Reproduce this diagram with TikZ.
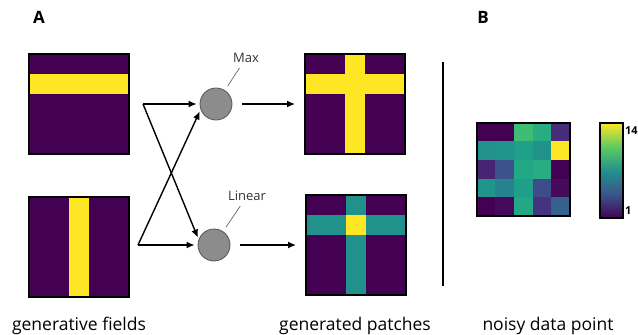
\documentclass[tikz,border=0pt]{standalone}
\usepackage{fontspec}
\setmainfont{Open Sans}
\usetikzlibrary{arrows.meta}

% viridis steps
\definecolor{vA}{HTML}{440154}
\definecolor{vB}{HTML}{450A5C}
\definecolor{vC}{HTML}{482475}
\definecolor{vD}{HTML}{472C7A}
\definecolor{vE}{HTML}{46337F}
\definecolor{vF}{HTML}{404688}
\definecolor{vG}{HTML}{3E4C8A}
\definecolor{vH}{HTML}{33638D}
\definecolor{vI}{HTML}{3B528B}
\definecolor{vJ}{HTML}{26828E}
\definecolor{vK}{HTML}{21918C}
\definecolor{vL}{HTML}{1F958B}
\definecolor{vM}{HTML}{1F9E89}
\definecolor{vN}{HTML}{1FA088}
\definecolor{vO}{HTML}{22A884}
\definecolor{vP}{HTML}{27AD81}
\definecolor{vQ}{HTML}{3DBC74}
\definecolor{vR}{HTML}{5EC962}
\definecolor{vY}{HTML}{FDE725}

% 5x5 cells: top left corner, cell size, colours row by row
\newcommand{\cellgrid}[3]{%
  \begin{scope}[shift={#1}]
    \foreach \cc [count=\i from 0] in {#3} {
      \pgfmathtruncatemacro{\gr}{\i/5}
      \pgfmathtruncatemacro{\gc}{mod(\i,5)}
      \fill[\cc, draw=\cc, line width=0.3pt] (\gc*#2,\gr*#2) rectangle ++(#2,#2);
    }
  \end{scope}}

\tikzset{
  field/.style={draw, line width=2pt, minimum size=100pt, inner sep=0pt},
  unit/.style={circle, draw=black!67, fill=black!45, minimum size=32pt, inner sep=0pt, line width=0.8pt},
  arr/.style={-{Latex[length=8pt,width=7pt]}, line width=1.4pt},
  tag/.style={text=black!80, font=\fontsize{13}{15}\selectfont},
  pinline/.style={draw=black!60, line width=0.7pt},
  caption/.style={font=\fontsize{17.5}{20}\selectfont, anchor=base},
  panel/.style={font=\bfseries\fontsize{17}{20}\selectfont}
}

\begin{document}
\begin{tikzpicture}[x=1pt,y=-1pt]
  \useasboundingbox (0,0) rectangle (638,335);

  \node[panel] (pA) at (39,17) {A};
  \node[panel] (pB) at (483,17) {B};

  % generative fields
  \cellgrid{(29,54)}{20}{vA,vA,vA,vA,vA, vY,vY,vY,vY,vY, vA,vA,vA,vA,vA, vA,vA,vA,vA,vA, vA,vA,vA,vA,vA}
  \node[field] (gen1) at (79,104) {};
  \cellgrid{(29,197)}{20}{vA,vA,vY,vA,vA, vA,vA,vY,vA,vA, vA,vA,vY,vA,vA, vA,vA,vY,vA,vA, vA,vA,vY,vA,vA}
  \node[field] (gen2) at (79,247) {};

  % combination units
  \node[unit] (maxc) at (216,104) {};
  \node[unit] (linc) at (214,245) {};
  \node[tag] (maxl) at (246,58) {Max};
  \node[tag] (linl) at (247,196) {Linear};
  \draw[pinline, shorten <=2pt, shorten >=5pt] (maxl) -- (maxc);
  \draw[pinline, shorten <=2pt, shorten >=5pt] (linl) -- (linc);

  \coordinate (s1) at (143,104);
  \coordinate (s2) at (138,245);
  \draw[arr, shorten >=3pt] (s1) -- (s1 -| maxc.west);
  \draw[arr, shorten >=2pt] (s1) -- (linc.160);
  \draw[arr, shorten >=2pt] (s2) -- (maxc.200);
  \draw[arr, shorten >=3pt] (s2) -- (s2 -| linc.west);

  % generated patches
  \cellgrid{(305,54)}{20}{vA,vA,vY,vA,vA, vY,vY,vY,vY,vY, vA,vA,vY,vA,vA, vA,vA,vY,vA,vA, vA,vA,vY,vA,vA}
  \node[field] (pat1) at (355,104) {};
  \cellgrid{(306,195)}{20}{vA,vA,vK,vA,vA, vK,vK,vY,vK,vK, vA,vA,vK,vA,vA, vA,vA,vK,vA,vA, vA,vA,vK,vA,vA}
  \node[field] (pat2) at (356,245) {};
  \draw[arr, shorten <=10pt, shorten >=9pt] (maxc) -- (pat1);
  \draw[arr, shorten <=10pt, shorten >=9pt] (linc) -- (pat2);

  \draw[line width=1.8pt] (443,62) -- (443,286);

  % noisy data point
  \cellgrid{(477,123)}{18.6}{vA,vA,vQ,vP,vD, vK,vL,vN,vK,vY, vC,vI,vO,vP,vA, vL,vJ,vM,vG,vB, vA,vB,vO,vE,vH}
  \node[field, minimum size=93pt] (noisy) at (523.5,169.5) {};

  % colour bar
  \shade[top color=vY, bottom color=vR] (600,123) rectangle (623,147);
  \shade[top color=vR, bottom color=vK] (600,147) rectangle (623,171);
  \shade[top color=vK, bottom color=vI] (600,171) rectangle (623,195);
  \shade[top color=vI, bottom color=vA] (600,195) rectangle (623,218);
  \node[draw, line width=1.6pt, minimum width=23pt, minimum height=95pt, inner sep=0pt] (cbar) at (611.5,170.5) {};
  \node[anchor=west, inner sep=1pt, font=\bfseries\fontsize{11}{13}\selectfont] (cmax) at (cbar.north east) [yshift=-8pt] {14};
  \node[anchor=west, inner sep=1pt, font=\bfseries\fontsize{11}{13}\selectfont] (cmin) at (cbar.south east) [yshift=8pt] {1};

  \node[caption] (capgen) at (79,330) {generative fields};
  \node[caption] (cappat) at (355,330) {generated patches};
  \node[caption] (capnoi) at (548,330) {noisy data point};
\end{tikzpicture}
\end{document}
